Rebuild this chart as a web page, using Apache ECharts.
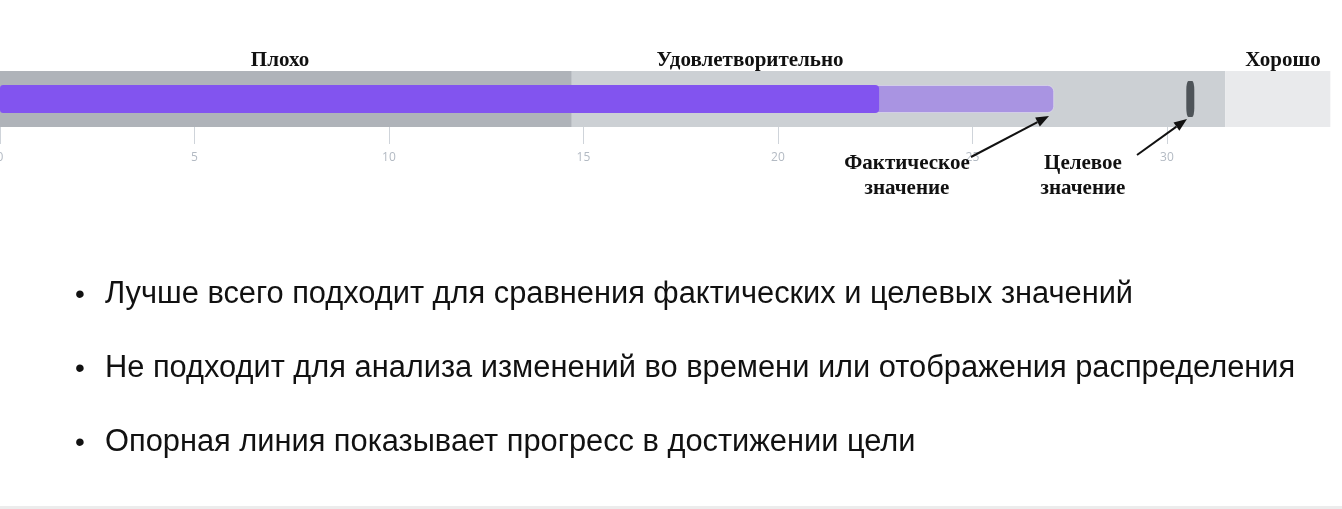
<!DOCTYPE html>
<html><head><meta charset="utf-8">
<script src="https://cdn.jsdelivr.net/npm/echarts@6/dist/echarts.min.js"></script>
<style>html,body{margin:0;padding:0;background:#fff;}#c{width:1342px;height:509px;}</style>
</head><body><div id="c"></div>
<script>
const categories = ['Показатель'];
const bandNames = ['Плохо', 'Удовлетворительно', 'Хорошо'];
const bandLimits = [14.7, 31.5, 34.2];
const actualValues = [22.6];
const secondaryValues = [27.1];
const targetValues = [30.6];
const tickValues = [0, 5, 10, 15, 20, 25, 30];
const bullets = [
  'Лучше всего подходит для сравнения фактических и целевых значений',
  'Не подходит для анализа изменений во времени или отображения распределения',
  'Опорная линия показывает прогресс в достижении цели'
];
const annActual = ['Фактическое', 'значение'];
const annTarget = ['Целевое', 'значение'];

const bandColors = ['#afb3b9', '#ccd0d4', '#e9eaec'];
const bandAreas = bandLimits.map((v, i) => [
  { xAxis: i === 0 ? 0 : bandLimits[i - 1], itemStyle: { color: bandColors[i], opacity: 1 } },
  { xAxis: v }
]);

const chart = echarts.init(document.getElementById('c'), null, { renderer: 'canvas' });

const serif = '"Liberation Serif", "DejaVu Serif", serif';
const sans = '"Liberation Sans", Arial, sans-serif';

function arrow(x1, y1, x2, y2) {
  const dx = x2 - x1, dy = y2 - y1, L = Math.hypot(dx, dy);
  const ux = dx / L, uy = dy / L, h = 13, w = 5;
  const bx = x2 - ux * h, by = y2 - uy * h;
  return [
    { type: 'line', z: 100, shape: { x1, y1, x2: bx, y2: by }, style: { stroke: '#111', lineWidth: 2 } },
    { type: 'polygon', z: 100, shape: { points: [[x2, y2], [bx - uy * w, by + ux * w], [bx + uy * w, by - ux * w]] }, style: { fill: '#111' } }
  ];
}

const bandLabelPos = [[280, 61], [750, 61], [1283, 61]];
const graphics = [];
bandNames.forEach((t, i) => graphics.push({
  type: 'text', z: 100, x: bandLabelPos[i][0], y: bandLabelPos[i][1],
  style: { text: t, font: 'bold 21px ' + serif, fill: '#111', textAlign: 'center', textVerticalAlign: 'middle' }
}));
annActual.forEach((t, i) => graphics.push({
  type: 'text', z: 100, x: 907, y: 164 + i * 25,
  style: { text: t, font: 'bold 21px ' + serif, fill: '#111', textAlign: 'center', textVerticalAlign: 'middle' }
}));
annTarget.forEach((t, i) => graphics.push({
  type: 'text', z: 100, x: 1083, y: 164 + i * 25,
  style: { text: t, font: 'bold 21px ' + serif, fill: '#111', textAlign: 'center', textVerticalAlign: 'middle' }
}));
graphics.push(...arrow(971, 157, 1049, 116));
graphics.push(...arrow(1137, 155, 1187, 119));
bullets.forEach((t, i) => {
  const y = 295 + i * 74;
  graphics.push({ type: 'text', z: 100, x: 80, y: y, style: { text: '•', font: '28px ' + sans, fill: '#111', textAlign: 'center', textVerticalAlign: 'middle' } });
  graphics.push({ type: 'text', z: 100, x: 105, y: y, style: { text: t, font: '30.8px ' + sans, fill: '#111', textAlign: 'left', textVerticalAlign: 'middle' } });
});
graphics.push({ type: 'rect', z: 100, shape: { x: 0, y: 506, width: 1342, height: 3 }, style: { fill: '#ececec' } });

chart.setOption({
  animation: false,
  backgroundColor: '#fff',
  grid: { left: 0, right: 0, top: 71, height: 56, containLabel: false, outerBoundsMode: 'none' },
  xAxis: {
    type: 'value', min: 0, max: 34.5,
    splitLine: { show: false },
    axisLine: { show: false },
    axisTick: { show: true, customValues: tickValues, length: 17, lineStyle: { color: '#cfd4da', width: 1 } },
    axisLabel: { customValues: tickValues, margin: 25, color: '#b3bac3', fontSize: 12, fontFamily: '"Open Sans", sans-serif' }
  },
  yAxis: { type: 'category', data: categories, show: false },
  series: [
    {
      type: 'bar', name: 'Промежуточное', data: secondaryValues, barWidth: 28, barGap: '-100%', z: 3,
      itemStyle: { color: '#a994e2', borderRadius: [3, 6, 6, 3], borderColor: 'rgba(255,255,255,0.35)', borderWidth: 1 },
      markArea: { silent: true, data: bandAreas }
    },
    {
      type: 'bar', name: 'Фактическое', data: actualValues, barWidth: 28, barGap: '-100%', z: 4,
      itemStyle: { color: '#8254ef', borderRadius: [3, 4, 4, 3] }
    },
    {
      type: 'scatter', name: 'Целевое', data: targetValues.map((v, i) => [v, categories[i]]), z: 5,
      symbol: 'roundRect', symbolSize: [8, 36], itemStyle: { color: '#2e3439' }
    }
  ],
  graphic: graphics
});
</script></body></html>
